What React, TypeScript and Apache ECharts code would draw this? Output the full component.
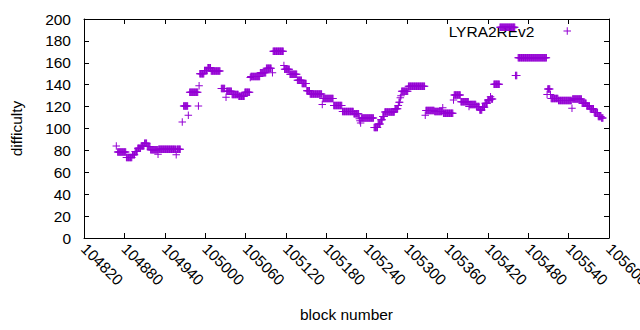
import React, { useEffect, useRef } from "react";
import * as echarts from "echarts";

// Each run is a stretch of consecutive blocks whose difficulty reads as equal in the plot.
const runFirstBlock = [
  104868, 104870, 104883, 104892, 104896, 104900, 104905, 104910, 104914, 104919,
  104930, 104931, 104957, 104958, 104966, 104968, 104975, 104977, 104990, 104991,
  104992, 104999, 105004, 105009, 105024, 105031, 105032, 105040, 105050, 105059,
  105067, 105068, 105082, 105091, 105100, 105101, 105117, 105118, 105126, 105137,
  105144, 105151, 105156, 105174, 105175, 105191, 105204, 105221, 105229, 105230,
  105231, 105232, 105251, 105257, 105261, 105264, 105267, 105282, 105287, 105288,
  105290, 105291, 105292, 105302, 105327, 105328, 105341, 105353, 105354, 105369,
  105370, 105380, 105392, 105393, 105403, 105408, 105412, 105416, 105420, 105424,
  105425, 105429, 105438, 105461, 105465, 105508, 105509, 105513, 105514, 105525,
  105545, 105546, 105560, 105567, 105572, 105578, 105584, 105589,
];
const runLastBlock = [
  104868, 104882, 104891, 104895, 104899, 104904, 104909, 104913, 104918, 104929,
  104930, 104956, 104957, 104963, 104966, 104974, 104975, 104989, 104990, 104991,
  104998, 105003, 105008, 105022, 105029, 105031, 105039, 105049, 105058, 105066,
  105067, 105081, 105090, 105098, 105100, 105116, 105117, 105125, 105136, 105143,
  105150, 105155, 105173, 105174, 105190, 105203, 105220, 105228, 105229, 105230,
  105231, 105250, 105256, 105260, 105263, 105266, 105281, 105286, 105287, 105289,
  105290, 105291, 105301, 105326, 105327, 105340, 105352, 105353, 105368, 105369,
  105379, 105391, 105392, 105402, 105407, 105411, 105415, 105419, 105423, 105424,
  105427, 105437, 105460, 105463, 105507, 105508, 105512, 105513, 105524, 105544,
  105545, 105559, 105566, 105571, 105577, 105583, 105588, 105591,
];
const runDifficulty = [
  84, 78.5, 73.5, 76, 79, 82, 84, 86.5, 83.5, 80.5,
  76.5, 81, 76, 81, 106, 120.5, 112, 133, 120.5, 139,
  150, 153, 155.5, 152.5, 136.5, 128.5, 134, 131, 129.5, 133,
  146.5, 147.5, 151, 155, 151, 170.5, 157.5, 154, 149.5, 144,
  141, 134.5, 131.5, 122, 127.5, 121, 115.5, 113.5, 109, 107,
  105, 109.5, 101, 104, 108, 111, 115, 118, 121, 124,
  128, 130, 134, 138.5, 112, 116.5, 115.5, 119, 114, 126,
  130.5, 124.5, 120, 122, 120, 117, 119.5, 123, 126, 129,
  127, 140.5, 192.5, 148.5, 164.5, 131, 136, 131, 127.5, 125.5,
  118.5, 127, 123, 120.5, 118, 114.5, 111, 109.5,
];

const seriesName = "LYRA2REv2";
const xMin = 104820;
const xMax = 105600;
const xStep = 60;
const yMin = 0;
const yMax = 200;
const yStep = 20;

const PLUS =
  "path://M0,6.5L15,6.5L15,8.5L0,8.5Z M6.5,0L8.5,0L8.5,15L6.5,15Z";
const FONT = "'Liberation Sans', Arial, sans-serif";
const FS = 15.5;

function buildPoints(): number[][] {
  const pts: number[][] = [];
  for (let i = 0; i < runFirstBlock.length; i++) {
    for (let b = runFirstBlock[i]; b <= runLastBlock[i]; b++) {
      pts.push([b, runDifficulty[i]]);
    }
  }
  return pts;
}

export default function App() {
  const ref = useRef<HTMLDivElement>(null);
  useEffect(() => {
    if (!ref.current) return;
    const chart = echarts.init(ref.current, undefined, { renderer: "svg" });
    const axisLine = { show: true, onZero: false, lineStyle: { color: "#000", width: 1 } };
    const axisTick = { show: true, inside: true, length: 5, lineStyle: { color: "#000", width: 1 } };
    chart.setOption({
      animation: false,
      textStyle: { fontFamily: FONT },
      grid: {
        left: 84,
        right: 31,
        top: 19,
        bottom: 92,
        containLabel: false,
        outerBoundsMode: "none",
      },
      legend: {
        data: [seriesName],
        right: 69,
        top: 23,
        align: "right",
        icon: PLUS,
        itemWidth: 7.5,
        itemHeight: 7.5,
        itemGap: 0,
        padding: 0,
        selectedMode: false,
        z: 1,
        textStyle: {
          fontFamily: FONT,
          fontSize: FS,
          color: "#000",
          padding: [0, 24, 0, 0],
        },
      },
      xAxis: [
        {
          type: "value",
          position: "bottom",
          min: xMin,
          max: xMax,
          interval: xStep,
          axisLine,
          axisTick,
          splitLine: { show: false },
          axisLabel: {
            rotate: -45,
            margin: 8,
            color: "#000",
            fontSize: FS,
            fontFamily: FONT,
            showMinLabel: true,
            showMaxLabel: true,
            formatter: (v: number) => String(v),
          },
          name: "block number",
          nameLocation: "middle",
          nameGap: 68,
          nameTextStyle: { fontSize: FS, color: "#000", fontFamily: FONT },
        },
        {
          type: "value",
          position: "top",
          min: xMin,
          max: xMax,
          interval: xStep,
          axisLine,
          axisTick,
          splitLine: { show: false },
          axisLabel: { show: false },
        },
      ],
      yAxis: [
        {
          type: "value",
          position: "left",
          min: yMin,
          max: yMax,
          interval: yStep,
          axisLine,
          axisTick,
          splitLine: { show: false },
          axisLabel: {
            margin: 13,
            color: "#000",
            fontSize: FS,
            fontFamily: FONT,
            formatter: (v: number) => String(v),
          },
          name: "difficulty",
          nameLocation: "middle",
          nameGap: 60,
          nameTextStyle: { fontSize: FS, color: "#000", fontFamily: FONT },
        },
        {
          type: "value",
          position: "right",
          min: yMin,
          max: yMax,
          interval: yStep,
          axisLine,
          axisTick,
          splitLine: { show: false },
          axisLabel: { show: false },
        },
      ],
      series: [
        {
          type: "scatter",
          name: seriesName,
          data: buildPoints(),
          symbol: PLUS,
          symbolSize: 7.5,
          silent: true,
          z: 3,
          itemStyle: { color: "#9400D3", opacity: 1 },
        },
      ],
    });
    return () => chart.dispose();
  }, []);
  return (
    <div
      ref={ref}
      style={{ position: "absolute", left: 0, top: 0, width: 640, height: 330 }}
    />
  );
}
